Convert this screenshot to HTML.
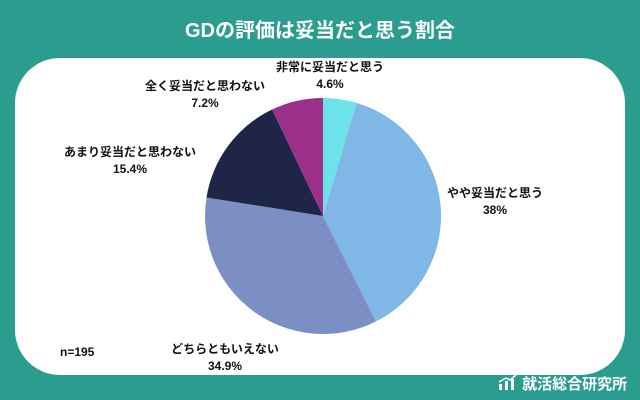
<!DOCTYPE html>
<html><head><meta charset="utf-8"><style>
body{margin:0;width:640px;height:400px;background:#2a9d8f;position:relative;overflow:hidden;font-family:"Liberation Sans","Noto Sans CJK JP",sans-serif}
.panel{position:absolute;left:15px;top:58px;width:610px;height:317px;background:#fff;border-radius:45px}
.t{position:absolute;left:0;width:640px;top:14px;text-align:center;color:#fff;font-size:20px;font-weight:bold}
.l{position:absolute;font-size:12px;font-weight:bold;color:#111;text-align:center;line-height:17px}
</style></head><body>
<div class="t">GDの評価は妥当だと思う割合</div>
<div class="panel"></div>
<svg style="position:absolute;left:0;top:0" width="640" height="400">
<path d="M323,216 L323,98 A118,118 0 0 1 356.6,102.9 Z" fill="#6de3e8"/>
<path d="M323,216 L356.6,102.9 A118,118 0 0 1 375.9,321.5 Z" fill="#7fb8e6"/>
<path d="M323,216 L375.9,321.5 A118,118 0 0 1 206.5,197.5 Z" fill="#7b8fc4"/>
<path d="M323,216 L206.5,197.5 A118,118 0 0 1 272.1,109.5 Z" fill="#1e2547"/>
<path d="M323,216 L272.1,109.5 A118,118 0 0 1 323,98 Z" fill="#9b2f8a"/>
</svg>
<div class="l" style="left:270px;top:59px;width:120px">非常に妥当だと思う<br>4.6%</div>
<div class="l" style="left:130px;top:78px;width:150px">全く妥当だと思わない<br>7.2%</div>
<div class="l" style="left:50px;top:144px;width:160px">あまり妥当だと思わない<br>15.4%</div>
<div class="l" style="left:440px;top:185px;width:110px">やや妥当だと思う<br>38%</div>
<div class="l" style="left:150px;top:341px;width:150px">どちらともいえない<br>34.9%</div>
<div class="l" style="left:60px;top:344px;text-align:left">n=195</div>
<div style="position:absolute;left:498px;top:373px;color:#fff;font-size:15px;font-weight:bold">
<svg width="20" height="16" style="vertical-align:-2px"><rect x="1" y="9" width="3" height="6" fill="#fff"/><rect x="7" y="6" width="3" height="9" fill="#fff"/><rect x="13" y="4" width="3" height="11" fill="#fff"/><polyline points="1,7 8,3 12,5 18,0" stroke="#fff" fill="none" stroke-width="1.5"/></svg> 就活総合研究所</div>
</body></html>
